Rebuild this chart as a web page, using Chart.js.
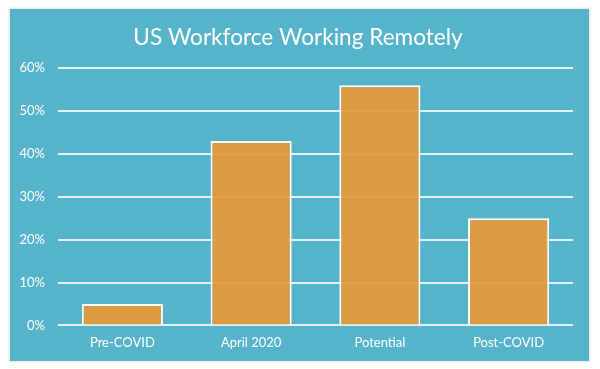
<!DOCTYPE html>
<html>
<head>
<meta charset="utf-8">
<script src="https://cdn.jsdelivr.net/npm/chart.js@4"></script>
<style>
  html, body { margin: 0; padding: 0; background: #ffffff; }
  #panel {
    position: absolute; left: 10px; top: 9px; width: 579px; height: 352px;
    background: #56b4ca; box-shadow: 0 0 2px 1px rgba(0,0,0,0.12);
  }
  canvas { display: block; }
</style>
</head>
<body>
<div id="panel"><canvas id="c" width="579" height="352"></canvas></div>
<script>
const titleText = "US Workforce Working Remotely";
const categories = ["Pre-COVID", "April 2020", "Potential", "Post-COVID"];
const remoteShare = [5, 43, 56, 25];
const yTicks = [0, 10, 20, 30, 40, 50, 60];

new Chart(document.getElementById("c"), {
  type: "bar",
  data: {
    labels: categories,
    datasets: [{
      data: remoteShare,
      backgroundColor: "rgba(226,153,58,0.94)",
      borderColor: "#ffffff",
      borderWidth: 2,
      barPercentage: 0.63,
      categoryPercentage: 1,
      yAxisID: "y"
    }]
  },
  options: {
    responsive: false,
    animation: false,
    layout: { padding: { left: 6, right: 9, bottom: 8 } },
    plugins: {
      legend: { display: false },
      tooltip: { enabled: false },
      title: {
        display: true, text: titleText, color: "#ffffff",
        font: { family: "Lato", size: 22.6, weight: "normal" },
        padding: { top: 15, bottom: 17 }
      }
    },
    scales: {
      x: {
        grid: { display: false },
        border: { display: false },
        ticks: { color: "#ffffff", font: { family: "Lato", size: 13 }, padding: 2 }
      },
      y: {
        min: 0, max: 60,
        afterBuildTicks: (axis) => { axis.ticks = yTicks.map(v => ({ value: v })); },
        afterFit: (axis) => { axis.width = 42; },
        grid: { color: "rgba(240,250,252,0.9)", lineWidth: 2, drawTicks: false },
        border: { display: false },
        ticks: {
          color: "#ffffff", font: { family: "Lato", size: 13 }, padding: 13,
          callback: (v) => v + "%"
        }
      },
      yRight: {
        position: "right",
        min: 0, max: 60,
        afterFit: (axis) => { axis.width = 7; },
        grid: { display: false },
        border: { display: false },
        ticks: { display: false }
      }
    }
  }
});
</script>
</body>
</html>
